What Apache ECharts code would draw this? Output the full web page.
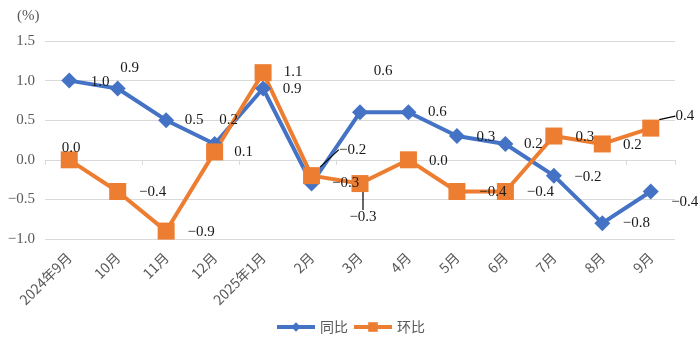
<!DOCTYPE html>
<html><head><meta charset="utf-8">
<script src="https://cdn.jsdelivr.net/npm/echarts@6/dist/echarts.min.js"></script>
<style>html,body{margin:0;padding:0;background:#fff}#c{width:700px;height:349px}</style>
</head><body><div id="c"></div>
<script>
const categories = ['2024年9月','10月','11月','12月','2025年1月','2月','3月','4月','5月','6月','7月','8月','9月'];
const yoy = [1.0, 0.9, 0.5, 0.2, 0.9, -0.3, 0.6, 0.6, 0.3, 0.2, -0.2, -0.8, -0.4];
const mom = [0.0, -0.4, -0.9, 0.1, 1.1, -0.2, -0.3, 0.0, -0.4, -0.4, 0.3, 0.2, 0.4];
const seriesNames = ['同比', '环比'];

// label placement (pixels relative to the marker), kept apart from data
const yoyLabelOffset = [[31,1],[12,-20],[28,0],[14,-24],[29,1],[34,0],[23,-41],[29,0],[29,1],[28,0],[34,1],[34,0],[34,11]];
const momLabelOffset = [[2,-12],[35,1],[35,1],[29,0],[30,-1],[41,-26],[3,34],[30,1],[36,1],[35,1],[31,1],[30,1],[34,-12]];
const momLeader = [5, 6, 12];

const fmt = v => (v < 0 ? '\u2212' + Math.abs(v).toFixed(1) : v.toFixed(1));
const serif = '"Liberation Serif", "DejaVu Serif", serif';
const cjk = '"Noto Sans CJK SC", sans-serif';

function mkData(vals, leaders) {
  return vals.map((v, i) => ({ value: v, labelLine: { show: leaders.indexOf(i) >= 0 } }));
}
function mkLayout(offs) {
  return p => ({ dx: offs[p.dataIndex][0], dy: offs[p.dataIndex][1] });
}

const chart = echarts.init(document.getElementById('c'), null, { renderer: 'canvas' });
chart.setOption({
  animation: false,
  title: { text: '(%)', left: 12, top: 4, textStyle: { fontFamily: serif, fontSize: 15, fontWeight: 'normal', color: '#595959' } },
  grid: { left: 45, right: 25, top: 41, bottom: 110 },
  legend: {
    data: seriesNames, bottom: 10, left: 'center', itemWidth: 38, itemHeight: 12, itemGap: 4,
    lineStyle: { width: 4 },
    textStyle: { color: '#595959', fontSize: 14, fontFamily: cjk }
  },
  xAxis: [{
    type: 'category', data: categories, position: 'bottom',
    axisLine: { show: false, onZero: false }, axisTick: { show: false },
    axisLabel: { rotate: 45, margin: 16, color: '#595959', fontSize: 14, fontFamily: cjk, interval: 0 }
  }, {
    type: 'category', data: categories, position: 'bottom',
    axisLine: { show: true, onZero: true, lineStyle: { color: '#d9d9d9', width: 1 } },
    axisTick: { show: true, length: 5, lineStyle: { color: '#d9d9d9' } },
    axisLabel: { show: false }
  }],
  yAxis: {
    type: 'value', min: -1.0, max: 1.5, interval: 0.5,
    axisLine: { show: false }, axisTick: { show: false },
    splitLine: { lineStyle: { color: '#d9d9d9', width: 1 } },
    axisLabel: { formatter: fmt, color: '#595959', fontSize: 15, fontFamily: serif, margin: 10 }
  },
  series: [{
    name: seriesNames[0], type: 'line', data: mkData(yoy, []),
    symbol: 'diamond', symbolSize: 16, z: 2,
    lineStyle: { width: 4, color: '#4472C4' }, itemStyle: { color: '#4472C4' },
    label: { show: true, position: 'inside', formatter: p => fmt(p.value), color: '#1a1a1a', fontSize: 15, fontFamily: serif },
    labelLayout: mkLayout(yoyLabelOffset)
  }, {
    name: seriesNames[1], type: 'line', data: mkData(mom, momLeader),
    symbol: 'rect', symbolSize: 17, z: 2,
    lineStyle: { width: 4, color: '#ED7D31' }, itemStyle: { color: '#ED7D31' },
    label: { show: true, position: 'inside', formatter: p => fmt(p.value), color: '#1a1a1a', fontSize: 15, fontFamily: serif },
    labelLine: { lineStyle: { color: '#000', width: 1.2 } },
    labelLayout: mkLayout(momLabelOffset)
  }]
});
</script></body></html>
